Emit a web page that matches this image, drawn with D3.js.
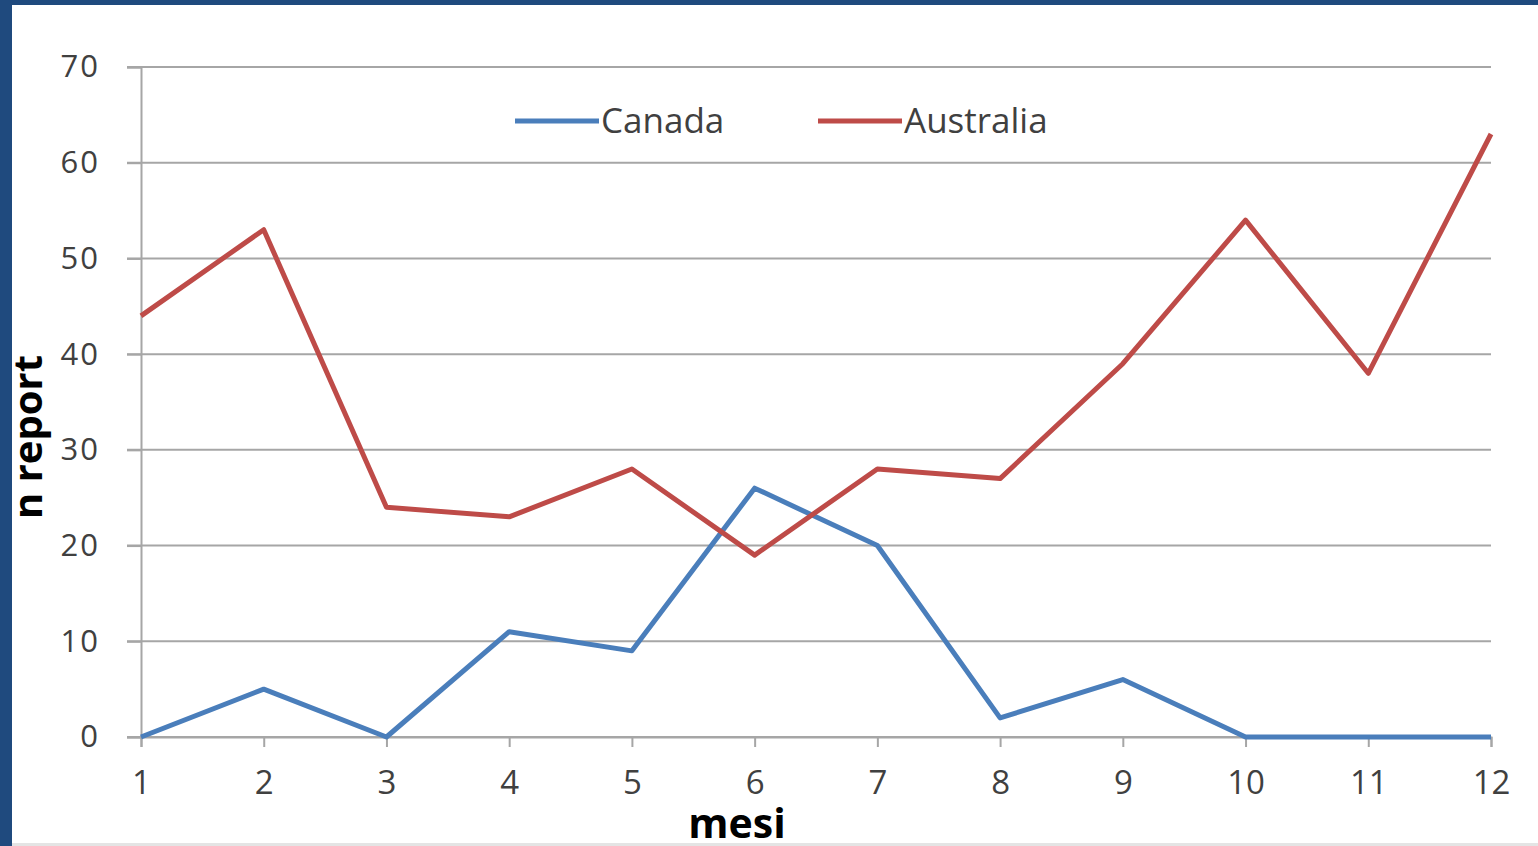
<!DOCTYPE html>
<html>
<head>
<meta charset="utf-8">
<script src="https://cdn.jsdelivr.net/npm/d3@7"></script>
<style>
  html, body { margin: 0; padding: 0; background: #fff; }
  svg { display: block; }
</style>
</head>
<body>
<div id="chart"></div>
<script>
const months = [1, 2, 3, 4, 5, 6, 7, 8, 9, 10, 11, 12];
const canada = [0, 5, 0, 11, 9, 26, 20, 2, 6, 0, 0, 0];
const australia = [44, 53, 24, 23, 28, 19, 28, 27, 39, 54, 38, 63];
const yTicks = [0, 10, 20, 30, 40, 50, 60, 70];

const width = 1538;
const height = 846;

const svg = d3.select("#chart")
  .append("svg")
  .attr("width", width)
  .attr("height", height);

// frame: dark blue left and top borders
svg.append("rect").attr("x", 0).attr("y", 0).attr("width", width).attr("height", height).attr("fill", "#fff");
svg.append("rect").attr("x", 0).attr("y", 0).attr("width", width).attr("height", 5).attr("fill", "#1f4a7e");
svg.append("rect").attr("x", 0).attr("y", 0).attr("width", 12).attr("height", height).attr("fill", "#1f4a7e");
svg.append("rect").attr("x", 12).attr("y", 843).attr("width", width).attr("height", 3).attr("fill", "#e4e4e4");

const x = d3.scaleLinear().domain([1, 12]).range([141, 1491]);
const y = d3.scaleLinear().domain([0, 70]).range([737, 67]);

// horizontal gridlines
svg.append("g")
  .selectAll("line")
  .data(yTicks)
  .join("line")
  .attr("x1", 127)
  .attr("x2", 1491)
  .attr("y1", d => y(d))
  .attr("y2", d => y(d))
  .attr("stroke", "#a6a6a6")
  .attr("stroke-width", 2);

// y axis
const yAxis = svg.append("g")
  .attr("transform", "translate(141,0)")
  .call(d3.axisLeft(y).tickValues(yTicks).tickSize(14).tickPadding(27));
yAxis.select(".domain").attr("stroke", "#a6a6a6").attr("stroke-width", 2);
yAxis.selectAll(".tick line").attr("stroke", "#a6a6a6").attr("stroke-width", 2);
yAxis.selectAll("text")
  .attr("font-family", "Open Sans, sans-serif")
  .attr("font-size", 31)
  .attr("letter-spacing", 2)
  .attr("fill", "#404040");

// x axis
const xAxis = svg.append("g")
  .attr("transform", `translate(0,${y(0)})`)
  .call(d3.axisBottom(x).tickValues(months).tickFormat(d3.format("d")).tickSize(10).tickPadding(24));
xAxis.select(".domain").attr("stroke", "#a6a6a6").attr("stroke-width", 2);
xAxis.selectAll(".tick line").attr("stroke", "#a6a6a6").attr("stroke-width", 2);
xAxis.selectAll("text")
  .attr("font-family", "Open Sans, sans-serif")
  .attr("font-size", 33)
  .attr("fill", "#404040");

// series lines
const line = d3.line()
  .x((d, i) => x(months[i]))
  .y(d => y(d));

svg.append("path")
  .datum(canada)
  .attr("d", line)
  .attr("fill", "none")
  .attr("stroke", "#4a7ebb")
  .attr("stroke-width", 5)
  .attr("stroke-linejoin", "round");

svg.append("path")
  .datum(australia)
  .attr("d", line)
  .attr("fill", "none")
  .attr("stroke", "#be4b48")
  .attr("stroke-width", 5)
  .attr("stroke-linejoin", "round");

// legend
const legend = [
  { name: "Canada", color: "#4a7ebb", x: 515 },
  { name: "Australia", color: "#be4b48", x: 818 }
];
const lg = svg.append("g").selectAll("g").data(legend).join("g")
  .attr("transform", d => `translate(${d.x},121)`);
lg.append("line")
  .attr("x1", 0).attr("x2", 84)
  .attr("stroke", d => d.color)
  .attr("stroke-width", 5);
lg.append("text")
  .attr("x", 86)
  .attr("dy", "0.35em")
  .attr("font-family", "Open Sans, sans-serif")
  .attr("font-size", 35)
  .attr("fill", "#404040")
  .text(d => d.name);

// axis titles
svg.append("text")
  .attr("transform", "translate(42,437) rotate(-90)")
  .attr("text-anchor", "middle")
  .attr("font-family", "Open Sans, sans-serif")
  .attr("font-weight", "bold")
  .attr("font-size", 40)
  .attr("fill", "#000")
  .text("n report");

svg.append("text")
  .attr("x", 737)
  .attr("y", 838)
  .attr("text-anchor", "middle")
  .attr("font-family", "Open Sans, sans-serif")
  .attr("font-weight", "bold")
  .attr("font-size", 41)
  .attr("fill", "#000")
  .text("mesi");
</script>
</body>
</html>
